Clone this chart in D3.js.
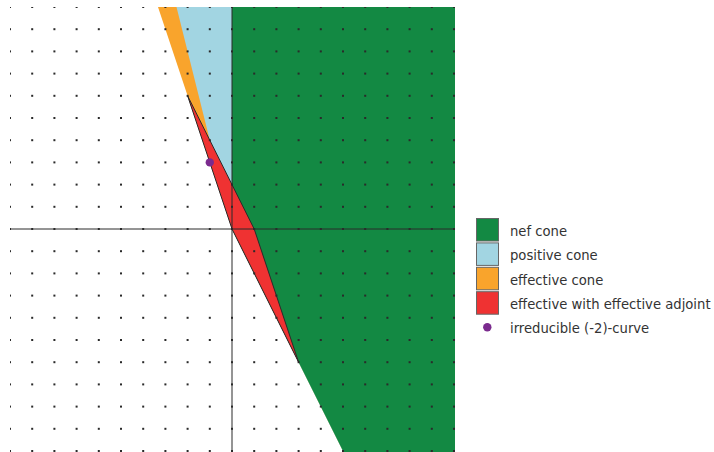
<!DOCTYPE html>
<html>
<head>
<meta charset="utf-8">
<script src="https://cdn.jsdelivr.net/npm/d3@7"></script>
<style>
  body { margin: 0; background: #fff; }
  svg { display: block; font-family: "DejaVu Sans", sans-serif; }
</style>
</head>
<body>
<svg id="chart" width="714" height="452"></svg>
<script>
// Lattice extent (integer points shown as dots)
const latticeMin = -10;
const latticeMax = 10;

// Cones given by their two boundary rays (counter-clockwise order: from first to second)
const effectiveCone = [[1, -2], [-1, 3]];
const positiveCone  = [[1, -2], [-1, 4]];
const nefCone       = [[1, -2], [0, 1]];

// Divisors that are effective with effective adjoint (closed region)
const adjointRegion = [[-2, 6], [0, 0], [3, -6], [1, 0]];

// Irreducible (-2)-curves
const minusTwoCurves = [[-1, 3]];

// Legend entries
const legendLabels = ["nef cone", "positive cone", "effective cone", "effective with effective adjoint", "irreducible (-2)-curve"];
const legendColors = ["#138943", "#a2d5e2", "#f9a42c", "#ef3232", "#7b2b8e"];

const svg = d3.select("#chart");
const x = d3.scaleLinear().domain([latticeMin, latticeMax]).range([10, 454]);
const y = d3.scaleLinear().domain([latticeMin, latticeMax]).range([451, 7]);

svg.append("defs").append("clipPath").attr("id", "plotClip")
  .append("rect").attr("x", 10).attr("y", 7).attr("width", 445).attr("height", 445);

const plot = svg.append("g").attr("clip-path", "url(#plotClip)");

// Build a polygon for a cone by extending the rays far past the plotted window
function conePolygon(rays) {
  const far = 120;
  const [a, b] = rays;
  const a0 = Math.atan2(a[1], a[0]);
  let b0 = Math.atan2(b[1], b[0]);
  if (b0 <= a0) b0 += 2 * Math.PI;
  const pts = [[0, 0]];
  const steps = 24;
  for (let i = 0; i <= steps; i++) {
    const t = a0 + (b0 - a0) * i / steps;
    pts.push([far * Math.cos(t), far * Math.sin(t)]);
  }
  return pts;
}

const line = d3.line().x(d => x(d[0])).y(d => y(d[1]));

[[effectiveCone, legendColors[2]], [positiveCone, legendColors[1]], [nefCone, legendColors[0]]]
  .forEach(([cone, color]) => {
    plot.append("path")
      .attr("d", line(conePolygon(cone)) + "Z")
      .attr("fill", color);
  });

plot.append("path")
  .attr("d", line(adjointRegion) + "Z")
  .attr("fill", legendColors[3])
  .attr("stroke", "#2a2a2a")
  .attr("stroke-width", 1)
  .attr("stroke-linejoin", "miter");

// Axes through the origin
plot.append("line")
  .attr("x1", 10).attr("x2", 455).attr("y1", y(0)).attr("y2", y(0))
  .attr("stroke", "#2a2a2a").attr("stroke-width", 1);
plot.append("line")
  .attr("x1", x(0)).attr("x2", x(0)).attr("y1", 7).attr("y2", 452)
  .attr("stroke", "#2a2a2a").attr("stroke-width", 1);

// Integer lattice points
const lattice = [];
for (let i = latticeMin; i <= latticeMax; i++)
  for (let j = latticeMin; j <= latticeMax; j++) lattice.push([i, j]);
plot.append("g").selectAll("rect").data(lattice).join("rect")
  .attr("x", d => x(d[0]) - 1).attr("y", d => y(d[1]) - 1)
  .attr("width", 2).attr("height", 2)
  .attr("fill", "#2a2a2a");

plot.append("g").selectAll("circle").data(minusTwoCurves).join("circle")
  .attr("cx", d => x(d[0])).attr("cy", d => y(d[1]))
  .attr("r", 4.2).attr("fill", legendColors[4]);

// Legend
const legend = svg.append("g").attr("transform", "translate(476,218)");
legendLabels.forEach((label, i) => {
  const g = legend.append("g").attr("transform", `translate(0,${i * 24.4})`);
  if (i < 4) {
    g.append("rect").attr("x", 0.5).attr("y", 0.5).attr("width", 22).attr("height", 22.5)
      .attr("fill", legendColors[i]).attr("stroke", "#666").attr("stroke-width", 1);
  } else {
    g.append("circle").attr("cx", 11.3).attr("cy", 11.7).attr("r", 4.2).attr("fill", legendColors[i]);
  }
  g.append("text").attr("x", 34).attr("y", i < 4 ? 13.5 : 12.5)
    .attr("dominant-baseline", "central")
    .attr("font-size", 13.2).attr("fill", "#333")
    .text(label);
});
</script>
</body>
</html>
